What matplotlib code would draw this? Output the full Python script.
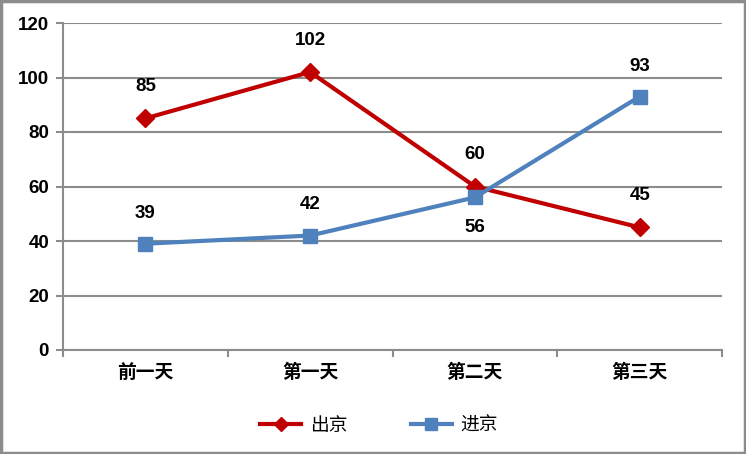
import matplotlib
matplotlib.use("Agg")
import matplotlib.pyplot as plt
from matplotlib.patches import Rectangle

plt.rcParams['font.family'] = ['Liberation Sans', 'Noto Sans CJK SC', 'DejaVu Sans']

categories = ['前一天', '第一天', '第二天', '第三天']
out_values = [85, 102, 60, 45]   # 出京
in_values = [39, 42, 56, 93]     # 进京
in_label_below = [False, False, True, False]

RED = '#C00000'
BLUE = '#4F81BD'
GRID = '#8C8C8C'
CJK = ['Noto Sans CJK SC', 'DejaVu Sans']

fig = plt.figure(figsize=(7.46, 4.54), dpi=100)
ax = fig.add_axes([63 / 746, 1 - 350 / 454, 659 / 746, 327 / 454])

x = list(range(len(categories)))
ax.plot(x, out_values, color=RED, lw=3, marker='D', ms=9, label='出京', zorder=3)
ax.plot(x, in_values, color=BLUE, lw=3, marker='s', ms=10.5, label='进京', zorder=3)

for xi, v in zip(x, out_values):
    ax.annotate(str(v), (xi, v), xytext=(0, 23), textcoords='offset points',
                ha='center', va='center', fontsize=13.5, fontweight='bold')
for xi, v, below in zip(x, in_values, in_label_below):
    ax.annotate(str(v), (xi, v), xytext=(0, -22 if below else 22), textcoords='offset points',
                ha='center', va='center', fontsize=13.5, fontweight='bold')

ax.set_xlim(-0.5, len(categories) - 0.5)
ax.set_ylim(0, 120)
ax.set_yticks(range(0, 121, 20))
ax.yaxis.grid(True, color=GRID, lw=1.5)
ax.set_axisbelow(True)

ax.set_xticks([i - 0.5 for i in range(len(categories) + 1)])
ax.set_xticklabels([])
ax.set_xticks(x, minor=True)
ax.set_xticklabels(categories, minor=True, fontsize=13.5, fontweight='bold', family=CJK)
ax.tick_params(axis='x', which='minor', length=0, pad=9)
ax.tick_params(axis='x', which='major', length=5, width=1.5, color=GRID, direction='out')
ax.tick_params(axis='y', length=5, width=1.5, color=GRID, labelsize=13.5, pad=5)
for lbl in ax.get_yticklabels():
    lbl.set_fontweight('bold')

for side in ['top', 'right']:
    ax.spines[side].set_visible(False)
for side in ['left', 'bottom']:
    ax.spines[side].set_color(GRID)
    ax.spines[side].set_linewidth(1.5)

fig.legend(loc='center', bbox_to_anchor=(0.508, 1 - 425 / 454), ncol=2, frameon=False,
           prop={'family': CJK, 'size': 13.5},
           handlelength=2.2, handletextpad=0.45, columnspacing=3.4, markerscale=0.8)

fig.patches.append(Rectangle((0.002, 0.003), 0.996, 0.994, transform=fig.transFigure,
                             fill=False, edgecolor=GRID, lw=2.5))

fig.savefig('out.png', dpi=100)
